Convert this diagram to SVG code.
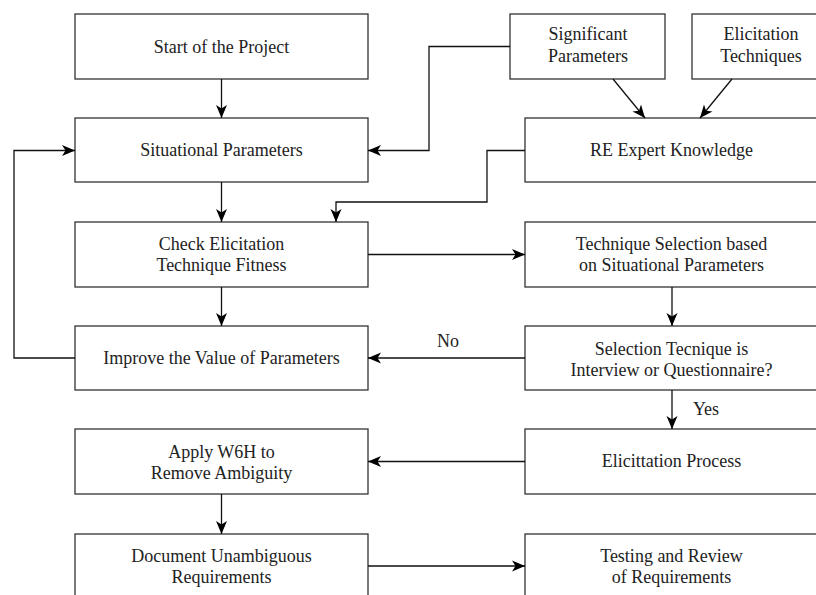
<svg xmlns="http://www.w3.org/2000/svg" width="816" height="595" viewBox="0 0 816 595">
<defs>
<marker id="ah" markerWidth="13" markerHeight="12" refX="13" refY="6" orient="auto" markerUnits="userSpaceOnUse">
<path d="M0,0.5 L13,6 L0,11.5 L3.5,6 z" fill="#000"/>
</marker>
<style>
.box{fill:#fff;stroke:#333;stroke-width:1.3}
.t{font-family:"Liberation Serif","Times New Roman",serif;font-size:18px;fill:#222;text-anchor:middle}
.c{fill:none;stroke:#111;stroke-width:1.3;marker-end:url(#ah)}
</style>
</defs>
<rect width="816" height="595" fill="#fff"/>
<g id="start"><rect class="box" x="75" y="14" width="293" height="65"/><text class="t" x="221.5" y="52.5">Start of the Project</text></g>
<g id="situational"><rect class="box" x="75" y="118" width="293" height="64"/><text class="t" x="221.5" y="156">Situational Parameters</text></g>
<g id="check"><rect class="box" x="75" y="222" width="293" height="65"/><text class="t" x="221.5" y="250">Check Elicitation</text><text class="t" x="221.5" y="271">Technique Fitness</text></g>
<g id="improve"><rect class="box" x="75" y="326" width="293" height="64"/><text class="t" x="221.5" y="364">Improve the Value of Parameters</text></g>
<g id="apply"><rect class="box" x="75" y="429" width="293" height="65"/><text class="t" x="221.5" y="458">Apply W6H to</text><text class="t" x="221.5" y="479">Remove Ambiguity</text></g>
<g id="document"><rect class="box" x="75" y="534" width="293" height="70"/><text class="t" x="221.5" y="562">Document Unambiguous</text><text class="t" x="221.5" y="583">Requirements</text></g>
<g id="significant"><rect class="box" x="510" y="14" width="155" height="65"/><text class="t" x="588" y="40">Significant</text><text class="t" x="588" y="62">Parameters</text></g>
<g id="elicitation"><rect class="box" x="692" y="14" width="140" height="65"/><text class="t" x="761" y="40">Elicitation</text><text class="t" x="761" y="62">Techniques</text></g>
<g id="expert"><rect class="box" x="525" y="118" width="293" height="64"/><text class="t" x="671.5" y="156">RE Expert Knowledge</text></g>
<g id="selection"><rect class="box" x="525" y="222" width="293" height="65"/><text class="t" x="671.5" y="250">Technique Selection based</text><text class="t" x="671.5" y="271">on Situational Parameters</text></g>
<g id="decision"><rect class="box" x="525" y="326" width="293" height="64"/><text class="t" x="671.5" y="355">Selection Tecnique is</text><text class="t" x="671.5" y="376">Interview or Questionnaire?</text></g>
<g id="process"><rect class="box" x="525" y="429" width="293" height="65"/><text class="t" x="671.5" y="467">Elicittation Process</text></g>
<g id="testing"><rect class="box" x="525" y="534" width="293" height="70"/><text class="t" x="671.5" y="562">Testing and Review</text><text class="t" x="671.5" y="583">of Requirements</text></g>
<g id="connectors">
<path class="c" d="M221.5,79 V118"/>
<path class="c" d="M221.5,182 V222"/>
<path class="c" d="M221.5,287 V326"/>
<path class="c" d="M75,358 H14 V150.5 H75"/>
<path class="c" d="M510,46.5 H429 V150.5 H368"/>
<path class="c" d="M525,150.5 H487 V202 H336 V222"/>
<path class="c" d="M368,254.5 H525"/>
<path class="c" d="M672,287 V326"/>
<path class="c" d="M525,358 H368"/>
<path class="c" d="M672,390 V429"/>
<path class="c" d="M525,461.5 H368"/>
<path class="c" d="M221.5,494 V534"/>
<path class="c" d="M368,566 H525"/>
<path class="c" d="M613,79 L645,118"/>
<path class="c" d="M732,79 L700,118"/>
<text class="t" x="448" y="347">No</text>
<text class="t" x="706" y="415">Yes</text>
</g>
</svg>
